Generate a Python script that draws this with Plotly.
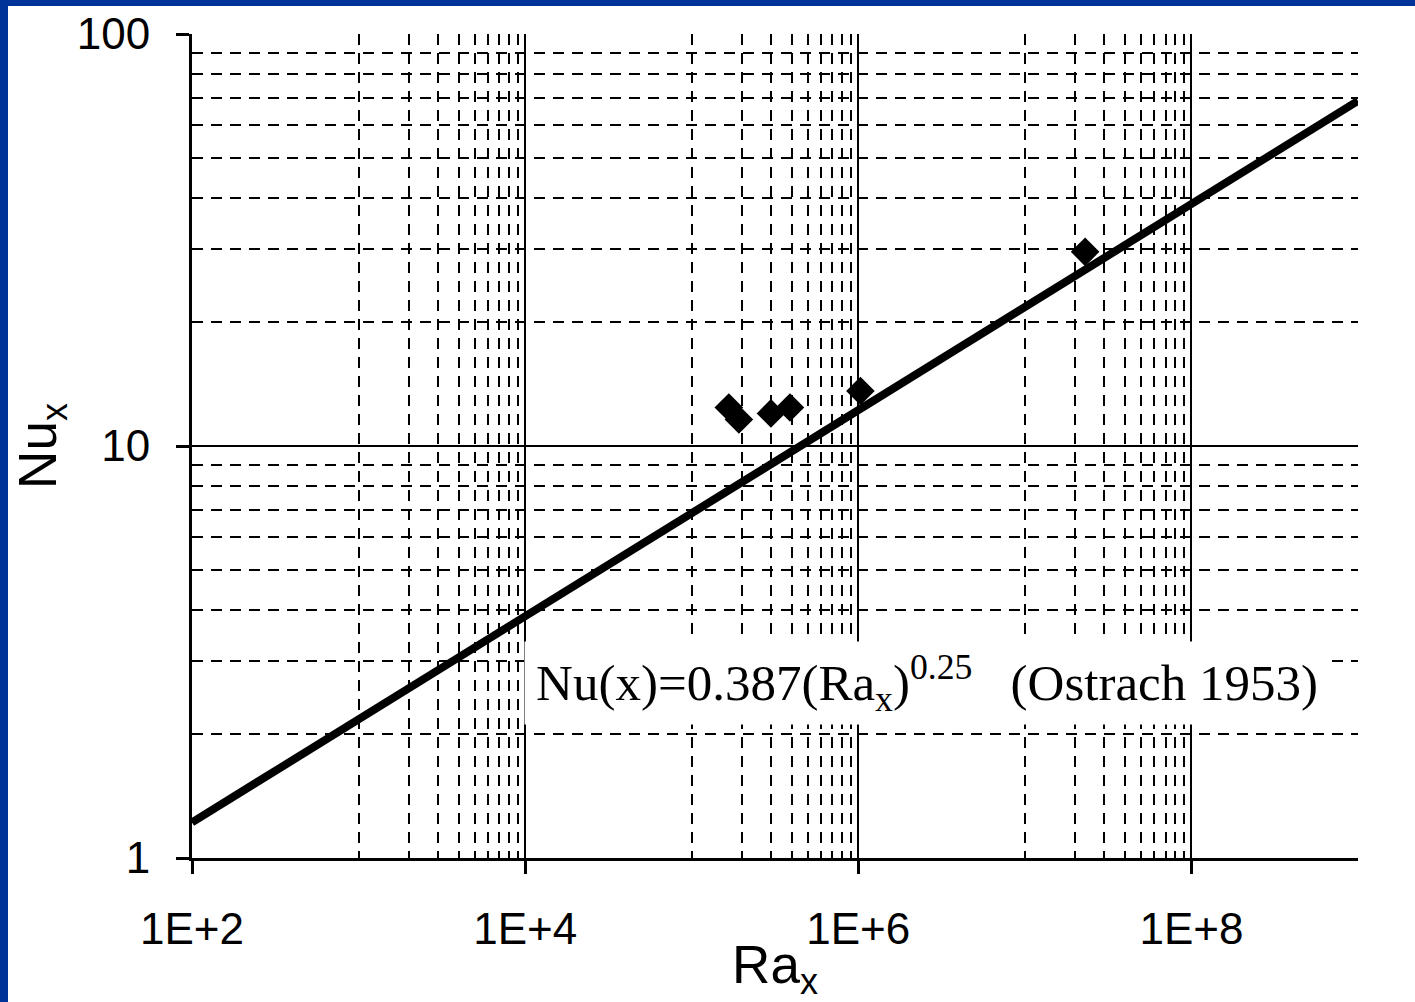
import plotly.graph_objects as go

# Ostrach (1953) correlation line, endpoints
ra_line = [1e2, 1e9]
nu_line = [1.22, 68.8]

# measured points (diamonds)
ra_data = [1.67e5, 1.92e5, 2.99e5, 3.89e5, 1.03e6, 2.30e7]
nu_data = [12.4, 11.6, 12.0, 12.4, 13.6, 29.6]

# axis ticks
x_major = [1e2, 1e4, 1e6, 1e8]
x_major_labels = ["1E+2", "1E+4", "1E+6", "1E+8"]
x_minor = [1e3, 2e3, 3e3, 4e3, 5e3, 6e3, 7e3, 8e3, 9e3,
           1e5, 2e5, 3e5, 4e5, 5e5, 6e5, 7e5, 8e5, 9e5,
           1e7, 2e7, 3e7, 4e7, 5e7, 6e7, 7e7, 8e7, 9e7, 1e9]
y_major = [1, 10, 100]
y_major_labels = ["1", "10", "100"]
y_minor = [2, 3, 4, 5, 6, 7, 8, 9, 20, 30, 40, 50, 60, 70, 80, 90]

W, H = 1415, 1002
L, R, T, B = 192, 57, 34, 144
PW, PH = W - L - R, H - T - B
DASH = "11px,8px"


def px_x(p):
    return (p - L) / PW


def px_y(p):
    return (H - B - p) / PH


fig = go.Figure()
fig.add_trace(go.Scatter(x=ra_line, y=nu_line, mode="lines",
                         line=dict(color="black", width=8), showlegend=False))
fig.add_trace(go.Scatter(x=ra_data, y=nu_data, mode="markers",
                         marker=dict(symbol="diamond", size=22, color="black"),
                         showlegend=False))

fig.update_layout(
    width=W, height=H,
    margin=dict(l=L, r=R, t=T, b=B, autoexpand=False),
    paper_bgcolor="white", plot_bgcolor="white",
    font=dict(family="Liberation Sans, Arial", size=44, color="black"),
)

fig.update_xaxes(
    type="log", range=[2, 9], automargin=False,
    tickmode="array", tickvals=x_major, ticktext=x_major_labels,
    ticks="outside", ticklen=13, tickwidth=3, tickcolor="black",
    ticklabelstandoff=17,
    showline=True, linewidth=3, linecolor="black",
    showgrid=True, gridcolor="black", gridwidth=2,
    minor=dict(tickmode="array", tickvals=x_minor, showgrid=True,
               gridcolor="black", gridwidth=2, griddash=DASH, ticks=""),
    title=dict(text="Ra<sub><span style='font-size:36px'>x</span></sub>", standoff=0),
)
fig.update_yaxes(
    type="log", range=[0, 2], automargin=False,
    tickmode="array", tickvals=y_major, ticktext=y_major_labels,
    ticks="outside", ticklen=13, tickwidth=3, tickcolor="black",
    ticklabelstandoff=17,
    showline=True, linewidth=3, linecolor="black",
    showgrid=True, gridcolor="black", gridwidth=2,
    minor=dict(tickmode="array", tickvals=y_minor, showgrid=True,
               gridcolor="black", gridwidth=2, griddash=DASH, ticks=""),
    title=dict(text="Nu<sub><span style='font-size:36px'>x</span></sub>", standoff=4),
)

fig.add_annotation(
    xref="paper", yref="paper", x=px_x(926.5), y=px_y(683),
    xanchor="center", yanchor="middle", showarrow=False,
    text="Nu(x)=0.387(Ra<sub>x</sub>)<sup>0.25</sup>\u00a0\u00a0\u00a0(Ostrach 1953)",
    font=dict(family="Liberation Serif, Times New Roman, serif", size=51, color="black"),
    bgcolor="white", width=800, height=78, borderpad=2,
)

# blue slide frame (top and left strips)
fig.add_shape(type="rect", xref="paper", yref="paper", layer="above",
              x0=px_x(0), x1=px_x(8), y0=px_y(H), y1=px_y(0),
              fillcolor="#003399", line=dict(width=0))
fig.add_shape(type="rect", xref="paper", yref="paper", layer="above",
              x0=px_x(0), x1=px_x(W), y0=px_y(6), y1=px_y(0),
              fillcolor="#003399", line=dict(width=0))

fig.write_html("out.html", config={"displayModeBar": False},
               post_script="document.body.style.margin='0px';document.body.style.overflow='hidden';")
